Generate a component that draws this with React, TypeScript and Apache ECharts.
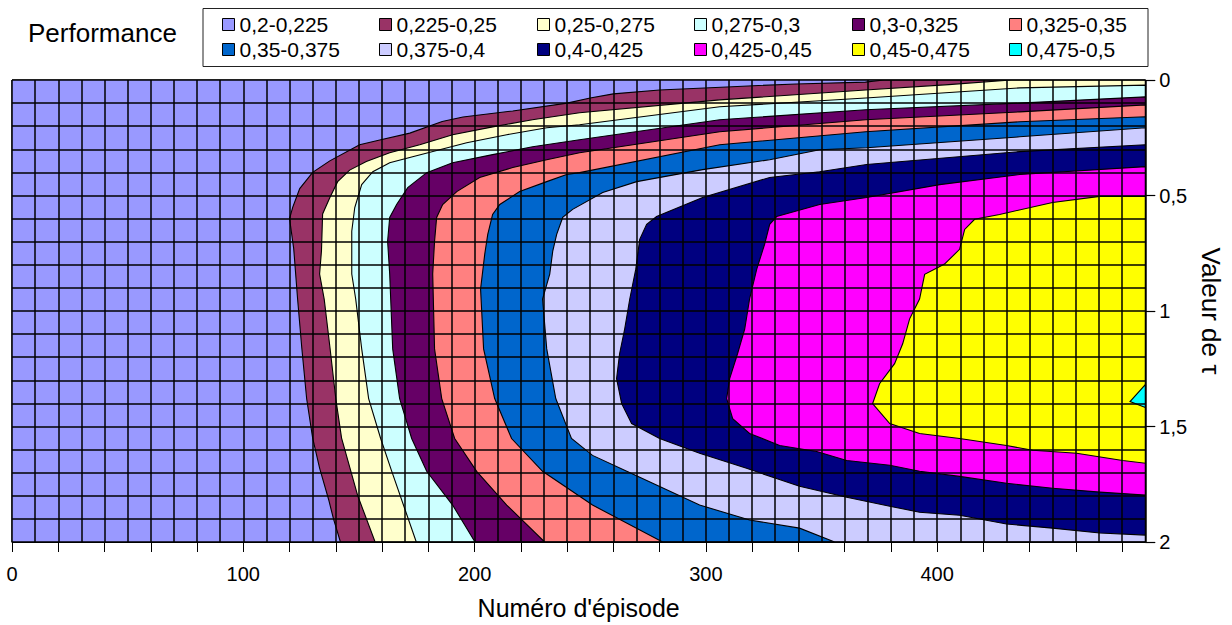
import React, { useEffect, useRef } from 'react';
import * as echarts from 'echarts';

// ---- data ----
const levelLabels = [
  '0,2-0,225', '0,225-0,25', '0,25-0,275', '0,275-0,3', '0,3-0,325', '0,325-0,35',
  '0,35-0,375', '0,375-0,4', '0,4-0,425', '0,425-0,45', '0,45-0,475', '0,475-0,5',
];
const levelColors = [
  '#9999FF', '#993366', '#FFFFCC', '#CCFFFF', '#660066', '#FF8080',
  '#0066CC', '#CCCCFF', '#000080', '#FF00FF', '#FFFF00', '#00FFFF',
];

const episodeMax = 490;
const tauMax = 2;
const xTickStep = 20;
const xGridStep = 10;
const yGridStep = 0.1;
const yTickStep = 0.5;
const xTicks = [0, 20, 40, 60, 80, 100, 120, 140, 160, 180, 200, 220, 240, 260, 280, 300, 320, 340, 360, 380, 400, 420, 440, 460, 480];
const xLabels = [0, 100, 200, 300, 400];
const yLabels = [0, 0.5, 1, 1.5, 2];

// contour boundaries [episode, tau]; region beyond each boundary has performance above the level
const bBase = [[0, 0], [490, 0], [490, 2], [0, 2]];
const b0225 = [[142, 2], [139, 1.9], [137, 1.82], [133, 1.68], [130, 1.55], [127.4, 1.38], [125.3, 1.16], [123.5, 0.95], [121.8, 0.73], [120, 0.6], [121.4, 0.55], [124.4, 0.47], [130, 0.4], [137.4, 0.35], [150.3, 0.28], [159, 0.26], [172, 0.23], [186, 0.18], [195, 0.16], [216.5, 0.134], [240, 0.1], [250, 0.078], [260, 0.06], [280, 0.043], [309, 0.03], [339, 0.017], [369, 0.009], [377, 0]];
const b025 = [[157, 2], [149.5, 1.8], [142.5, 1.55], [140, 1.38], [137.5, 1.16], [135, 0.95], [133, 0.84], [133.8, 0.74], [134.3, 0.58], [137.4, 0.51], [140.8, 0.44], [146, 0.39], [153.2, 0.353], [163.3, 0.315], [176.3, 0.28], [190.5, 0.237], [207.8, 0.203], [225, 0.172], [245.4, 0.142], [306, 0.086], [369, 0.043], [405, 0.02], [432, 0]];
const b0275 = [[174.8, 2], [164.2, 1.694], [159.4, 1.552], [154.2, 1.379], [151.2, 1.164], [148.6, 0.948], [146.9, 0.84], [146.9, 0.655], [148.2, 0.552], [151.2, 0.453], [156, 0.397], [163.3, 0.358], [173.2, 0.332], [184.9, 0.302], [196.6, 0.272], [213.9, 0.237], [231.2, 0.207], [245.4, 0.194], [306, 0.116], [369.1, 0.078], [435.7, 0.034], [490, 0.022]];
const b03 = [[200.2, 2], [190.5, 1.84], [179.3, 1.694], [172.8, 1.552], [167.6, 1.379], [164.6, 1.164], [163.3, 0.84], [162.4, 0.698], [163.3, 0.595], [166.3, 0.539], [171.1, 0.466], [179.3, 0.401], [190.5, 0.358], [207.8, 0.323], [225.1, 0.289], [245.4, 0.259], [306, 0.172], [369.1, 0.129], [435.7, 0.1], [490, 0.073]];
const b0325 = [[230.3, 2], [213.9, 1.84], [200.9, 1.694], [191.4, 1.552], [185.8, 1.379], [182.7, 1.164], [181.9, 0.84], [182.7, 0.698], [183.6, 0.595], [186.2, 0.539], [192.3, 0.483], [202.2, 0.422], [216.5, 0.379], [231.2, 0.345], [245.4, 0.315], [306, 0.224], [369.1, 0.172], [435.7, 0.138], [490, 0.108]];
const b035 = [[281.3, 2], [251, 1.84], [229.4, 1.694], [216, 1.552], [208.7, 1.379], [203.9, 1.164], [202.6, 0.905], [204.4, 0.754], [205.7, 0.668], [207.8, 0.582], [210.9, 0.539], [219.5, 0.483], [231.2, 0.44], [239.8, 0.409], [245.4, 0.401], [306, 0.28], [369.1, 0.224], [435.7, 0.181], [490, 0.159]];
const b0375 = [[355.7, 2], [340.5, 1.94], [318.9, 1.905], [297.3, 1.84], [265.8, 1.694], [251, 1.625], [241.9, 1.552], [235.1, 1.379], [231.2, 1.164], [229.4, 0.948], [232.5, 0.84], [233.8, 0.741], [235.5, 0.668], [238.1, 0.595], [242.4, 0.56], [255.4, 0.487], [270.1, 0.44], [298.6, 0.388], [327.6, 0.345], [349.2, 0.302], [369.5, 0.293], [435.7, 0.246], [490, 0.207]];
const b04 = [[490, 0.28], [435.7, 0.31], [369.5, 0.366], [349.2, 0.397], [327.6, 0.422], [298.6, 0.509], [278.7, 0.591], [274.4, 0.625], [271.4, 0.69], [269.7, 0.819], [267.1, 0.948], [264.9, 1.078], [262.7, 1.185], [261.4, 1.293], [263.6, 1.401], [267.9, 1.487], [280, 1.552], [297.3, 1.616], [317.6, 1.681], [340.5, 1.759], [360.9, 1.806], [379.5, 1.845], [392.4, 1.871], [409.7, 1.884], [430, 1.922], [449.9, 1.94], [470.3, 1.961], [490, 1.97]];
const b0425 = [[490, 0.375], [435.7, 0.409], [401.1, 0.453], [369.5, 0.509], [349.2, 0.539], [330.6, 0.591], [327.6, 0.625], [325.4, 0.711], [322, 0.819], [318.9, 0.948], [316.8, 1.078], [313.7, 1.185], [310.3, 1.293], [309, 1.379], [311.6, 1.466], [318.9, 1.53], [331.9, 1.582], [347.9, 1.608], [360.9, 1.647], [379.5, 1.668], [392.4, 1.694], [409.7, 1.716], [430, 1.746], [449.9, 1.767], [470.3, 1.784], [490, 1.797]];
const b045 = [[490, 0.504], [470.3, 0.504], [449.9, 0.53], [427, 0.582], [416.2, 0.603], [411.9, 0.647], [409.7, 0.733], [403.2, 0.797], [394.6, 0.841], [392.4, 0.948], [388.1, 1.034], [385.1, 1.142], [381.6, 1.228], [375.1, 1.315], [372.1, 1.401], [379.5, 1.487], [392.4, 1.53], [409.7, 1.552], [430, 1.582], [441.3, 1.603], [460.3, 1.616], [480.2, 1.647], [490, 1.659]];
const b0475 = [[490, 1.319], [483.4, 1.392], [490, 1.418]];

const boundaries = [bBase, b0225, b025, b0275, b03, b0325, b035, b0375, b04, b0425, b045, b0475];

// ---- layout ----
const FONT = 'Liberation Sans, Arial, sans-serif';
const legendX = [222, 379, 537, 694, 852, 1009];

function closedPolygon(pts: number[][]) {
  const out = pts.slice();
  const first = pts[0];
  const last = pts[pts.length - 1];
  if (last[1] === 0 && last[0] < episodeMax) out.push([episodeMax, 0]);
  if (first[1] === tauMax && first[0] < episodeMax && pts.length > 4) out.push([episodeMax, tauMax]);
  return out;
}

export default function App() {
  const ref = useRef<HTMLDivElement>(null);
  useEffect(() => {
    if (!ref.current) return;
    const chart = echarts.init(ref.current, undefined, { renderer: 'svg' });
    const series = levelLabels.map((name, i) => ({
      type: 'custom',
      name,
      xAxisIndex: 1,
      yAxisIndex: 1,
      clip: true,
      z: 2,
      itemStyle: { color: levelColors[i] },
      encode: { x: 0, y: 1 },
      data: boundaries[i],
      renderItem: (params: any, api: any) => {
        if (params.dataIndex !== 0) return null;
        const pts = (i === 0 ? boundaries[i] : closedPolygon(boundaries[i])).map((p) => api.coord(p));
        return {
          type: 'polygon',
          shape: { points: pts },
          style: { fill: levelColors[i], stroke: i === 0 ? null : '#000', lineWidth: 1.1 },
        };
      },
    }));
    const option: any = {
      animation: false,
      textStyle: { fontFamily: FONT },
      title: {
        text: 'Performance',
        left: 28,
        top: 20,
        padding: 0,
        textStyle: { fontSize: 26, fontWeight: 'normal', color: '#000', fontFamily: FONT },
      },
      legend: legendX.map((x, c) => ({
        orient: 'vertical',
        left: x,
        top: 14,
        padding: 0,
        itemGap: 4,
        itemWidth: 12,
        itemHeight: 12,
        icon: 'rect',
        selectedMode: false,
        itemStyle: { borderColor: '#000', borderWidth: 1 },
        textStyle: { fontSize: 21, color: '#000', fontFamily: FONT },
        data: [levelLabels[c], levelLabels[c + 6]],
      })),
      graphic: [
        {
          type: 'rect',
          shape: { x: 203, y: 8.5, width: 945, height: 58 },
          style: { fill: 'none', stroke: '#222', lineWidth: 1 },
        },
      ],
      grid: {
        left: 12, top: 80, width: 1134, height: 463,
        show: true, borderColor: '#000', borderWidth: 1, backgroundColor: 'transparent',
      },
      xAxis: [
        {
          type: 'value', min: 0, max: episodeMax, interval: xGridStep, position: 'top', z: 5,
          axisLine: { show: false, onZero: false }, axisTick: { show: false }, axisLabel: { show: false },
          splitLine: { show: true, lineStyle: { color: '#000', width: 1.5 } },
        },
        {
          type: 'value', min: 0, max: episodeMax, interval: xTickStep, position: 'bottom', z: 6,
          axisLine: { show: true, onZero: false, lineStyle: { color: '#000', width: 1 } },
          axisTick: { show: true, inside: false, customValues: xTicks, length: 10, lineStyle: { color: '#000', width: 1 } },
          axisLabel: {
            margin: 22, fontSize: 20, color: '#000', fontFamily: FONT,
            customValues: xLabels,
          },
          splitLine: { show: false },
          name: "Numéro d'épisode",
          nameLocation: 'middle',
          nameGap: 53,
          nameTextStyle: { fontSize: 25, color: '#000', fontFamily: FONT },
        },
      ],
      yAxis: [
        {
          type: 'value', min: 0, max: tauMax, interval: yGridStep, inverse: true, position: 'left', z: 5,
          axisLine: { show: false, onZero: false }, axisTick: { show: false }, axisLabel: { show: false },
          splitLine: { show: true, lineStyle: { color: '#000', width: 1.5 } },
        },
        {
          type: 'value', min: 0, max: tauMax, interval: yTickStep, inverse: true, position: 'right', z: 6,
          axisLine: { show: true, onZero: false, lineStyle: { color: '#000', width: 1 } },
          axisTick: { show: true, inside: false, length: 10, lineStyle: { color: '#000', width: 1.2 } },
          axisLabel: {
            margin: 14, fontSize: 20, color: '#000', fontFamily: FONT,
            formatter: (v: number) => (yLabels.indexOf(v) >= 0 ? String(v).replace('.', ',') : ''),
          },
          splitLine: { show: false },
          name: 'Valeur de τ',
          nameLocation: 'middle',
          nameRotate: -90,
          nameGap: 50,
          nameTextStyle: { fontSize: 26, color: '#000', fontFamily: FONT },
        },
      ],
      series,
    };
    chart.setOption(option);
    return () => chart.dispose();
  }, []);
  return (
    <div
      ref={ref}
      style={{ position: 'absolute', left: 0, top: 0, width: 1232, height: 625, background: '#fff' }}
    />
  );
}
